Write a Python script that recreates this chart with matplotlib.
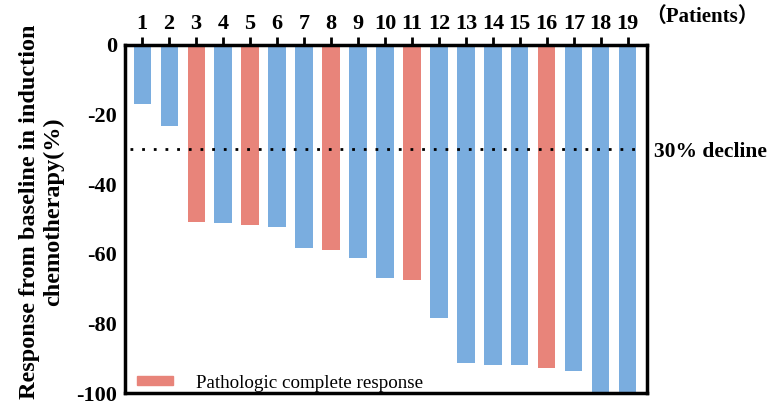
import numpy as np
import matplotlib.pyplot as plt
from matplotlib.patches import Patch

# 数据
patients = np.arange(1, 20)
response = [-17.0, -23.3, -50.9, -51.2, -51.6, -52.3, -58.3, -58.8, -61.3, -67.0,
            -67.6, -78.3, -91.5, -91.8, -91.9, -92.8, -93.7, -100.0, -100.0]
pcr = [3, 5, 8, 11, 16]

blue = '#7aaddf'
red = '#e8847a'

plt.rcParams['font.family'] = ['Liberation Serif', 'Noto Sans CJK SC']
plt.rcParams['axes.unicode_minus'] = False

fig = plt.figure(figsize=(7.68, 4.12), dpi=100)
ax = fig.add_axes([0.163, 0.046, 0.679, 0.845])

colors = [red if p in pcr else blue for p in patients]
ax.bar(patients, response, width=0.64, color=colors)

ax.axhline(-30, xmin=0.01, xmax=0.985, color='black', linestyle=(0, (1, 3.2)), linewidth=2)

ax.set_xlim(0.37, 19.7)
ax.set_ylim(-100, 0)
ax.set_yticks([0, -20, -40, -60, -80, -100])
ax.set_xticks(patients)
ax.xaxis.tick_top()
ax.tick_params(axis='x', direction='out', length=6, width=2, pad=2)
ax.tick_params(axis='y', direction='out', length=0, width=2, pad=6)
for lab in ax.get_xticklabels() + ax.get_yticklabels():
    lab.set_fontweight('bold')
    lab.set_fontsize(16)
for s in ax.spines.values():
    s.set_linewidth(2.5)

ax.set_ylabel('Response from baseline in induction\nchemotherapy(%)', fontsize=17.5,
              fontweight='bold', linespacing=1.2, va='center')
ax.yaxis.set_label_coords(-0.16, 0.52)

fig.text(0.84, 0.958, '（Patients）', fontsize=15, fontweight='bold', va='center', ha='left')
fig.text(0.852, 0.631, '30% decline', fontsize=15.5, fontweight='bold', va='center', ha='left')

ax.legend(handles=[Patch(color=red, label='Pathologic complete response')], loc='lower left',
          frameon=False, fontsize=13.7, handlelength=1.9, handleheight=0.38, handletextpad=1.2,
          bbox_to_anchor=(-0.01, -0.045))

fig.savefig('out.png', dpi=100)
